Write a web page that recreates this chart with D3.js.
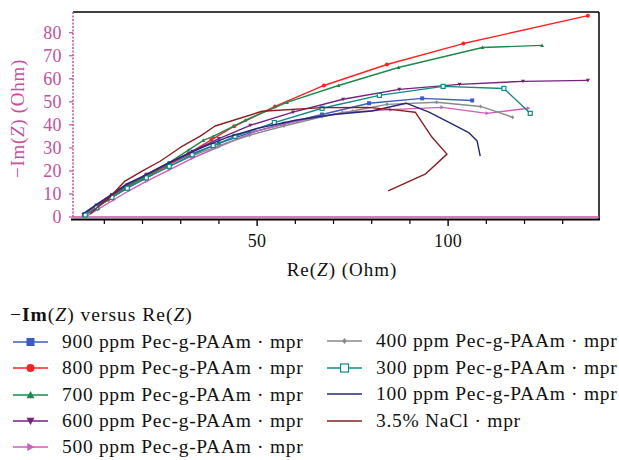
<!DOCTYPE html>
<html><head><meta charset="utf-8">
<script src="https://cdn.jsdelivr.net/npm/d3@7"></script>
<style>body{margin:0;background:#fff} svg{font-family:"Liberation Serif","DejaVu Serif",serif}</style>
</head><body><svg id="c" width="619" height="460"></svg>
<script>
// ---- data (Re(Z), -Im(Z)) in Ohm ----
const seriesNames = ["900 ppm Pec-g-PAAm · mpr","800 ppm Pec-g-PAAm · mpr","700 ppm Pec-g-PAAm · mpr","600 ppm Pec-g-PAAm · mpr","500 ppm Pec-g-PAAm · mpr","400 ppm Pec-g-PAAm · mpr","300 ppm Pec-g-PAAm · mpr","100 ppm Pec-g-PAAm · mpr","3.5% NaCl · mpr"];
const s900 = [[4.8,1.2],[8,5],[12,9.5],[16,13.5],[21,18],[27,23],[33,27.5],[40,32],[48,36.5],[57,40.5],[67,44.5],[79.3,49.4],[93.2,51.5],[106.3,50.6]];
const s800 = [[4.6,0.6],[7.5,3.5],[11,7.5],[15,12],[20,16.5],[26,22],[32,27.5],[38,33.5],[44,39.4],[54.7,48],[67.5,57.1],[84,66.2],[104,75.3],[136.6,87.4]];
const s700 = [[4.8,0.8],[7.5,3.8],[11,8],[15,12.5],[20,17],[26,22.5],[32,29],[35.9,33.3],[38.5,35],[46.9,42],[57.8,49.8],[71.3,57.1],[87,64.9],[109,73.6],[124.6,74.5]];
const s600 = [[4.5,1],[8,5],[12,9.5],[16,14],[21,18.5],[27,23.5],[33,28.5],[40,34],[48.2,39.8],[59.4,45.5],[72.5,51.1],[87.2,55.4],[103,57.6],[119.6,58.9],[136.6,59.3]];
const s500 = [[5.5,0.5],[8.5,3.5],[12.5,7.5],[16.5,11.5],[21,15.5],[27,20.5],[33,25.5],[40,30.5],[49.5,37.2],[60.5,41.6],[72.5,45.4],[85,46.6],[98.4,47.6],[110.2,45],[121,47.2]];
const s400 = [[5,0.8],[8,4.5],[12,8.5],[16,12.5],[21,17],[27,22],[33,26.5],[40,31],[48,35.5],[57,39.5],[67,43.5],[75,46],[84,48.9],[97,49.8],[108.5,48],[116.9,43.3]];
const s300 = [[5,0.9],[8,4],[12,8.5],[16,12.5],[21,17],[27,22],[33,27],[38.5,31],[44.2,35],[54.5,41],[67,47.2],[82,52.8],[98.7,56.7],[114.6,55.8],[121.5,45]];
const s100 = [[4.5,1.5],[8,5.5],[12,10],[16,14.5],[20,17.5],[25,22],[30,26],[36,30.5],[42,34.5],[50,38.5],[60,42],[70,44.5],[80,46],[89,49.4],[95,45.5],[101.5,40],[105.5,36.5],[107.6,33],[108.4,26.4]];
const sNaCl = [[6.3,1.3],[9.7,6.5],[11,7.8],[15.4,15.6],[19.9,19.9],[24.6,24.2],[30,30.3],[35,35],[39,39.5],[51.3,45.9],[67,47.5],[79,47.6],[86,46.5],[91.4,45.5],[95.8,34.6],[99.7,27.3],[94,18.6],[84.3,11.3]];
const seriesData = [s900,s800,s700,s600,s500,s400,s300,s100,sNaCl];
const xTickMajor = [50,100];
const xTickMinor = [10,20,30,40,60,70,80,90,110,120,130];
const yTicks = [0,10,20,30,40,50,60,70,80];

// ---- styles ----
const colors = ["#3b5cc0","#ff2020","#1b8a4c","#74217f","#cc5fb8","#8a8a8a","#0e8a8a","#24287a","#8b1e1e"];
const markers = ["square","circle","tri","dtri","rtri","diamond","osquare",null,null];
const pink = "#c4509e";

const svg = d3.select("#c");
const L=73, R=599, T=12, B=217;
const x = d3.scaleLinear().domain([1.8,139.5]).range([L,R]);
const y = d3.scaleLinear().domain([0,89]).range([B,T]);

function marker(g, type, cx, cy, s, col){
  const S=s;
  if(type==="square") g.append("rect").attr("x",cx-S/2).attr("y",cy-S/2).attr("width",S).attr("height",S).attr("fill",col);
  else if(type==="osquare") g.append("rect").attr("x",cx-S/2).attr("y",cy-S/2).attr("width",S).attr("height",S).attr("fill","#fff").attr("stroke",col).attr("stroke-width",1.2);
  else if(type==="circle") g.append("circle").attr("cx",cx).attr("cy",cy).attr("r",S/2).attr("fill",col);
  else {
    let pts;
    const h=S/2;
    if(type==="tri") pts=[[0,-h],[h,h*0.8],[-h,h*0.8]];
    else if(type==="dtri") pts=[[0,h],[h,-h*0.8],[-h,-h*0.8]];
    else if(type==="rtri") pts=[[h,0],[-h*0.8,-h],[-h*0.8,h]];
    else if(type==="diamond") pts=[[0,-h],[h*0.8,0],[0,h],[-h*0.8,0]];
    g.append("polygon").attr("points",pts.map(p=>[cx+p[0],cy+p[1]].join(",")).join(" ")).attr("fill",col);
  }
}

// frame
svg.append("line").attr("x1",L).attr("x2",R).attr("y1",T).attr("y2",T).attr("stroke","#000").attr("stroke-width",1.5);
svg.append("line").attr("x1",R).attr("x2",R).attr("y1",T).attr("y2",B+3).attr("stroke","#000").attr("stroke-width",1.5);
// x axis (black) below
svg.append("line").attr("x1",L-2).attr("x2",R+1).attr("y1",B+2.5).attr("y2",B+2.5).attr("stroke","#000").attr("stroke-width",2);
svg.selectAll(".xmn").data(xTickMinor).enter().append("line").attr("x1",d=>x(d)).attr("x2",d=>x(d)).attr("y1",B+3).attr("y2",B+7).attr("stroke","#000").attr("stroke-width",1.2);
svg.selectAll(".xmj").data(xTickMajor).enter().append("line").attr("x1",d=>x(d)).attr("x2",d=>x(d)).attr("y1",B+3).attr("y2",B+9).attr("stroke","#000").attr("stroke-width",1.4);
svg.selectAll(".xl").data(xTickMajor).enter().append("text").attr("x",d=>x(d)).attr("y",B+30).attr("text-anchor","middle").attr("font-size",18).attr("letter-spacing",0.4).attr("fill","#111").text(d=>d);
// pink baseline & y axis
svg.append("line").attr("x1",L).attr("x2",R).attr("y1",B).attr("y2",B).attr("stroke",pink).attr("stroke-width",1.5);
svg.append("line").attr("x1",L).attr("x2",L).attr("y1",T).attr("y2",B).attr("stroke",pink).attr("stroke-width",1.5).attr("stroke-dasharray","2,1.5");
svg.selectAll(".yt").data(yTicks).enter().append("line").attr("x1",L-4).attr("x2",L).attr("y1",d=>y(d)).attr("y2",d=>y(d)).attr("stroke",pink).attr("stroke-width",1.2);
svg.selectAll(".yl").data(yTicks).enter().append("text").attr("x",L-11).attr("y",d=>y(d)+6).attr("text-anchor","end").attr("font-size",18).attr("letter-spacing",0.4).attr("fill",pink).text(d=>d);

// axis titles
const yt = svg.append("text").attr("transform",`translate(24,${(T+B)/2+4}) rotate(-90)`).attr("text-anchor","middle").attr("font-size",19).attr("letter-spacing",0.7).attr("fill",pink);
yt.append("tspan").text("−Im(");
yt.append("tspan").attr("font-style","italic").text("Z");
yt.append("tspan").text(") (Ohm)");
const xt = svg.append("text").attr("x",342).attr("y",276).attr("text-anchor","middle").attr("font-size",19).attr("letter-spacing",1).attr("fill","#111");
xt.append("tspan").text("Re(");
xt.append("tspan").attr("font-style","italic").text("Z");
xt.append("tspan").text(") (Ohm)");

// series
const line = d3.line().x(d=>x(d[0])).y(d=>y(d[1]));
const gS = svg.append("g");
seriesData.forEach((data,i)=>{
  gS.append("path").attr("d",line(data)).attr("fill","none").attr("stroke",colors[i]).attr("stroke-width",1.4).attr("stroke-linejoin","round");
  if(markers[i]){
    data.forEach(d=>marker(gS,markers[i],x(d[0]),y(d[1]),4,colors[i]));
  }
});

// legend
const lt = svg.append("text").attr("x",10).attr("y",321).attr("font-size",19.5).attr("letter-spacing",1).attr("fill","#111");
lt.append("tspan").text("−");
lt.append("tspan").attr("font-weight","bold").text("Im");
lt.append("tspan").text("(");
lt.append("tspan").attr("font-style","italic").text("Z");
lt.append("tspan").text(") versus Re(");
lt.append("tspan").attr("font-style","italic").text("Z");
lt.append("tspan").text(")");
const legPos = [[13,342],[13,368],[13,395],[13,421],[13,447],[327,341],[327,368],[327,394],[327,421]];
seriesNames.forEach((n,i)=>{
  const [lx,ly]=legPos[i];
  const g=svg.append("g");
  g.append("line").attr("x1",lx).attr("x2",lx+35).attr("y1",ly).attr("y2",ly).attr("stroke",colors[i]).attr("stroke-width",1.5);
  if(markers[i]) marker(g,markers[i],lx+17.5,ly,i===5?6:8,colors[i]);
  g.append("text").attr("x",lx+49).attr("y",ly+6).attr("font-size",19.5).attr("letter-spacing",0.7).attr("fill","#111").text(n);
});
</script></body></html>
